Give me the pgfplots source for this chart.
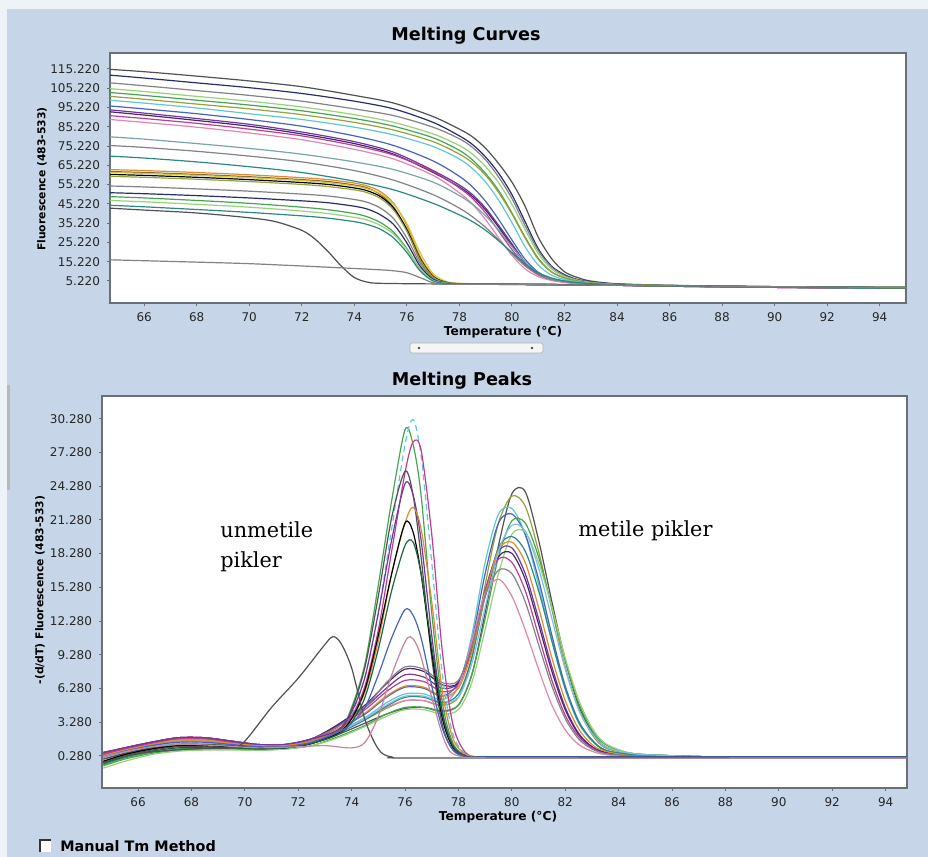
\documentclass[border=0pt]{standalone}
\usepackage{fontspec}
\setmainfont{DejaVu Sans}
\newfontfamily\annfont{DejaVu Serif}
\usepackage{pgfplots}
\usepackage{pgfplotstable}
\pgfplotsset{compat=1.18}

\definecolor{bgblue}{RGB}{198,214,232}
\definecolor{axgray}{RGB}{105,112,122}
\definecolor{cdgray}{RGB}{80,80,88}
\definecolor{cnavy}{RGB}{40,45,110}
\definecolor{cgray}{RGB}{130,130,135}
\definecolor{clgreen}{RGB}{150,210,120}
\definecolor{cgreen}{RGB}{70,165,80}
\definecolor{colive}{RGB}{150,160,60}
\definecolor{ccyan}{RGB}{95,200,210}
\definecolor{cblue}{RGB}{70,100,185}
\definecolor{cpurple}{RGB}{115,55,150}
\definecolor{cdpurple}{RGB}{75,35,110}
\definecolor{cmagenta}{RGB}{190,60,150}
\definecolor{cpink}{RGB}{225,135,175}
\definecolor{cgcyan}{RGB}{120,165,170}
\definecolor{cteal}{RGB}{45,135,130}
\definecolor{corange}{RGB}{220,140,50}
\definecolor{cbrown}{RGB}{140,100,40}
\definecolor{cyellow}{RGB}{210,200,60}
\definecolor{csky}{RGB}{130,190,230}
\definecolor{cdgreen}{RGB}{30,100,60}

% ---------- Melting curves: methylated-type samples ----------
\pgfplotstableread{
T    m1    m2    m3    m4    m5    m6    m7    m8    m9    m10   m11   m12   m13   m14   m15
64.7 115   112   108   105   103   101   99    96    94    93    91    89    80    75.5  70
66   113.8 110.5 106.5 103.5 101.5 99.5  97.5  94.5  92.3  91.3  89.5  87.5  78.8  74.5  69
68   111.5 108   104   101   99    97    95    92    89.5  88.5  87    85    76.5  72.5  67
70   109   105.5 101.5 98.5  96.5  94.5  92    89    86.5  85.5  84    82    74    70    64.5
72   106   102.5 98.5  95.5  93.5  91.5  89    85.5  82.5  81.5  80.5  78.5  71    67    61.5
74   101.5 98.5  94.5  91.5  89.5  87.5  85    80.5  77.5  76.5  75.5  73.5  67    62.5  57
75.5 97.5  94.5  91    87.5  85.5  83.5  81    75.5  72    71    70.5  68.5  63    57.5  52.5
77   90.5  87.5  85    81.5  79.5  77.5  75    67.5  62.5  61.5  62    60    56.5  50    45.5
78   84    80.5  79    75.5  73    71    68.5  59.5  55    54    53.5  51    49.5  43    39.5
78.5 80    76    74.5  71    68    66.5  63.5  54    50    49    48    45    45    38.5  36
79   74    69.5  68    64.5  61    60    56.5  46.5  43    42    40.5  37    39    33    31.5
79.5 66    61    59    56    52    51    47    37    34    33    31    27.5  31.5  26.5  26
80   56.5  50    48    45    40.5  40    35.5  26.5  24.5  23.5  21.5  18.5  23    19.5  20
80.5 44    36    34    32    28    27.5  23    16.5  15    14.5  13.5  11.5  15    13    14
81   28    22    21    19.5  17    16.5  13.5  9.8   9     8.8   8.4   7.5   9.5   8.5   9.5
81.5 17    13    12.5  11.5  10    10    8.3   6.5   6.2   6     5.9   5.5   6.5   6     6.8
82   10    8.5   8     7.5   6.8   6.8   6     5     4.8   4.7   4.6   4.5   5     4.8   5.3
82.5 7     6     5.8   5.5   5.2   5.1   4.7   4.2   4.1   4     4     3.9   4.2   4.1   4.4
83   5.2   4.8   4.6   4.4   4.2   4.1   3.9   3.7   3.6   3.5   3.5   3.5   3.7   3.6   3.8
84   3.8   3.6   3.5   3.4   3.3   3.2   3.2   3.1   3     3     3     3     3.1   3.1   3.2
86   3     2.9   2.9   2.8   2.7   2.7   2.6   2.6   2.5   2.5   2.5   2.5   2.6   2.6   2.6
90   2.2   2.1   2.1   2     2     2     2     2     1.9   1.9   1.9   1.9   2     2     2
95   1.5   1.5   1.5   1.4   1.4   1.4   1.4   1.4   1.4   1.4   1.4   1.4   1.4   1.4   1.4
}\topM

% ---------- Melting curves: unmethylated-type samples ----------
\pgfplotstableread{
T    u1   u2   u3   u4   u5   u6   u7   u8   u9   u10
64.7 63   62   61.5 60.5 59.5 54.5 51   49   47   44.5
66   62.5 61.5 61   60   59   54   50.5 48.3 46.3 43.7
68   61.5 60.5 60   59   58   53   49.5 47   45   42.3
70   60.3 59.3 58.8 57.8 56.8 51.8 48.3 45.5 43.5 40.8
72   58.8 57.8 57.3 56.3 55.3 50.3 46.8 43.5 41.5 39
73   57.8 56.8 56.2 55.3 54.2 49.3 45.8 42.2 40.2 37.8
74   56   55   54.5 53.5 52.5 47.5 44   40.2 38.2 36
74.5 54.5 53.5 53   52   51   46   42.5 38.5 36.8 34.5
75   51.5 50   50.5 49   48   43   39.5 35.5 34   32
75.5 45.5 43.5 45   43   42   37.5 34.5 30.5 29.5 27.5
76   34   31.5 35   32   31   27.5 25   22   21.5 20
76.5 18   16   20   17   16.5 14.5 13   11.5 11.5 10.5
77   8    7    9    7.5  7.2  6.5  6    5.5  5.5  5.2
77.5 4.6  4.4  5    4.5  4.4  4.3  4.2  4.1  4.1  4
78   3.9  3.8  4    3.8  3.8  3.7  3.7  3.7  3.7  3.6
80   3.6  3.5  3.6  3.5  3.5  3.5  3.5  3.5  3.5  3.4
84   3.2  3.1  3.2  3.1  3.1  3.1  3.1  3.1  3.1  3
88   2.5  2.4  2.5  2.4  2.4  2.4  2.4  2.4  2.4  2.4
95   1.8  1.8  1.8  1.8  1.8  1.8  1.8  1.8  1.8  1.8
}\topU

% ---------- Melting peaks: methylated-type samples ----------
\pgfplotstableread{
T    b1   b2   b3   b4   b5   b6   b7   b8   b9   b10  b11  b12  b13  b14
64.7 -0.3 -0.2 0.2  0.4  -0.6 -0.8 0.6  0.5  0.5  0.3  0    0.3  0.4  0.1
65.5 0.3  0.4  0.7  0.9  0    -0.2 1.0  1.0  1.0  0.8  0.5  0.8  0.9  0.6
66.5 0.8  0.9  1.2  1.4  0.5  0.4  1.5  1.5  1.5  1.3  1.0  1.3  1.4  1.1
67.5 1.1  1.2  1.6  1.8  0.8  0.7  1.9  1.9  1.9  1.7  1.3  1.6  1.8  1.4
68.5 1.1  1.2  1.6  1.8  0.9  0.8  1.9  1.9  1.9  1.7  1.3  1.6  1.8  1.4
69.5 1.0  1.1  1.4  1.5  0.9  0.8  1.6  1.6  1.6  1.4  1.2  1.4  1.5  1.3
70.5 0.9  1.0  1.2  1.2  0.8  0.8  1.3  1.3  1.3  1.1  1.0  1.2  1.2  1.1
71.5 1.0  1.1  1.2  1.2  0.9  0.9  1.3  1.3  1.3  1.1  1.0  1.2  1.2  1.1
72.5 1.4  1.5  1.6  1.7  1.2  1.2  1.8  1.8  1.8  1.5  1.4  1.6  1.7  1.5
73.5 2.2  2.4  2.5  2.7  2.0  1.9  3.0  3.1  2.9  2.4  2.3  2.7  2.9  2.4
74.5 3.2  3.5  3.7  4.0  3.0  2.9  4.6  4.8  4.4  3.6  3.5  4.1  4.6  3.6
75.3 4.0  4.5  5.0  5.5  4.0  3.8  6.3  6.7  6.0  4.6  4.7  5.6  6.8  4.8
76   4.5  5.2  5.8  6.4  4.6  4.4  7.5  8.0  7.0  5.2  5.5  6.5  8.2  5.6
76.7 4.6  5.2  5.8  6.3  4.6  4.4  7.3  7.8  6.9  5.2  5.5  6.4  8.0  5.6
77.4 4.3  4.8  5.3  5.6  4.2  4.0  6.3  6.6  6.0  4.8  5.0  5.6  6.8  5.1
78   4.8  5.5  6.5  6.8  4.8  4.4  6.8  6.8  6.6  6.5  5.8  6.3  7.0  5.5
78.5 7.5  9    11   10.5 7.5  6.8  10   9.8  10   10.5 9    9.5  10   8.5
79   13   15.5 17.5 16.5 12.5 11.5 15   14.5 15   14.8 14.5 14.5 14.5 13.5
79.5 19   21   21.8 21   18   16.5 18.5 18   17.8 16.0 18.8 18.6 16.8 18.5
80   23.6 23.4 22.3 21.8 21.2 20   18.8 18.3 17.5 14.5 19.8 19.3 16.5 20.8
80.5 23.8 22.5 20   20   21   20.2 16.5 16   15   11.5 18.5 17.5 14   20.3
81   19.5 18.5 15.5 16   18   17.5 12.5 12   11   8    15   13.5 10.2 17
81.5 14   13.3 10.5 11   13.5 13.5 8.2  7.8  7    4.8  10.5 9    6.5  12.5
82   8.8  8.2  6.2  6.5  8.8  9    4.6  4.4  3.9  2.6  6.3  5.2  3.6  8
82.5 4.8  4.5  3.2  3.4  5.0  5.3  2.3  2.2  2.0  1.3  3.3  2.7  1.8  4.4
83   2.4  2.2  1.6  1.7  2.6  2.8  1.1  1.1  1.0  0.7  1.7  1.3  0.9  2.3
83.5 1.1  1.0  0.8  0.8  1.3  1.4  0.6  0.6  0.5  0.4  0.8  0.7  0.5  1.1
84.5 0.5  0.5  0.4  0.4  0.5  0.5  0.3  0.3  0.3  0.2  0.4  0.3  0.3  0.5
86   0.3  0.3  0.3  0.3  0.3  0.3  0.2  0.2  0.2  0.2  0.3  0.2  0.2  0.3
88   0.2  0.2  0.2  0.2  0.2  0.2  0.2  0.2  0.2  0.2  0.2  0.2  0.2  0.2
95   0.2  0.2  0.2  0.2  0.2  0.2  0.2  0.2  0.2  0.2  0.2  0.2  0.2  0.2
}\botM

% ---------- Melting peaks: unmethylated-type samples ----------
\pgfplotstableread{
T    v1   v2   v3   v4   v5   v6   v7   v8   v9
64.7 -0.5 0.2  0.4  0.0  0.6  0.3  -0.2 -0.4 0.2
65.5 0.1  0.7  0.9  0.5  1.0  0.8  0.4  0.2  0.7
66.5 0.6  1.2  1.4  1.0  1.5  1.3  0.9  0.7  1.2
67.5 0.9  1.5  1.8  1.3  1.9  1.7  1.2  1.0  1.5
68.5 1.0  1.5  1.8  1.3  1.9  1.7  1.2  1.0  1.5
69.5 1.0  1.3  1.5  1.2  1.6  1.4  1.1  1.0  1.3
70.5 0.9  1.1  1.2  1.0  1.3  1.2  1.0  0.9  1.1
71.5 1.0  1.1  1.2  1.0  1.3  1.2  1.0  1.0  1.1
72.5 1.4  1.5  1.6  1.4  1.8  1.6  1.4  1.4  1.5
73.5 2.3  2.4  2.5  2.4  2.6  2.4  2.3  2.2  2.4
74   4.6  4.0  3.8  4.4  4.2  3.6  3.6  3.3  3.2
74.5 8.5  7.3  6.5  8.2  7.3  6.0  6.2  5.5  4.6
75   15.5 13   11.5 14.5 13   10.5 11   9.8  7.5
75.5 23   20.5 18.5 21.5 19.5 16.5 16.5 15   10.8
76   29.3 28   25.5 25.6 24.5 21   21   19   13.3
76.3 28   30.2 28.2 23.5 23.5 22.4 20.2 19.3 12.8
76.6 23.5 27   27.5 18   19.5 20.5 16.5 16.5 10.8
77   13   17.5 20   9    11   14   9.5  10   6.5
77.4 5    7.5  9.5  3    4.2  6    3.6  4    2.7
77.8 1.4  2.2  3    0.8  1.2  1.8  1.0  1.1  0.8
78.3 0.3  0.4  0.5  0.2  0.3  0.4  0.2  0.2  0.2
79   0.2  0.2  0.2  0.2  0.2  0.2  0.2  0.2  0.2
81   0.2  0.2  0.2  0.2  0.2  0.2  0.2  0.2  0.2
84   0.2  0.2  0.2  0.2  0.2  0.2  0.2  0.2  0.2
88   0.2  0.2  0.2  0.2  0.2  0.2  0.2  0.2  0.2
95   0.2  0.2  0.2  0.2  0.2  0.2  0.2  0.2  0.2
}\botU

\pgfplotsset{
  lcstyle/.style={
    scale only axis,
    axis background/.style={fill=white},
    axis line style={draw=axgray, line width=0.9pt},
    tick align=outside, xtick pos=left, ytick pos=left,
    major tick length=1.5pt,
    tick style={draw=axgray, line width=0.5pt},
    ticklabel style={font=\fontsize{6}{7}\selectfont, text=black!85},
    /pgf/number format/assume math mode=true,
    xtick={66,68,...,94},
    every axis plot/.append style={no markers, smooth, line width=0.6pt},
  }
}

\begin{document}
\begin{tikzpicture}
% background
\fill[bgblue] (0pt,0pt) rectangle (464pt,428.5pt);
\fill[white!70!bgblue] (0pt,424pt) rectangle (464pt,428.5pt);
\fill[white!70!bgblue] (0pt,0pt) rectangle (3.5pt,428.5pt);
\fill[gray!55] (3.5pt,183.5pt) rectangle (5pt,236pt);

% ---------------- top: Melting Curves ----------------
\begin{axis}[lcstyle,
  at={(55pt,277pt)}, anchor=south west,
  width=398pt, height=125pt,
  xmin=64.7, xmax=95, ymin=-6.2, ymax=123.5,
  ytick={5.22,15.22,25.22,35.22,45.22,55.22,65.22,75.22,85.22,95.22,105.22,115.22},
  yticklabels={5.220,15.220,25.220,35.220,45.220,55.220,65.220,75.220,85.220,95.220,105.220,115.220},
]
\addplot[cdgray]   table[x=T,y=m1]  {\topM};
\addplot[cnavy]    table[x=T,y=m2]  {\topM};
\addplot[cgray]    table[x=T,y=m3]  {\topM};
\addplot[clgreen]  table[x=T,y=m4]  {\topM};
\addplot[cgreen]   table[x=T,y=m5]  {\topM};
\addplot[colive]   table[x=T,y=m6]  {\topM};
\addplot[ccyan]    table[x=T,y=m7]  {\topM};
\addplot[cblue]    table[x=T,y=m8]  {\topM};
\addplot[cpurple]  table[x=T,y=m9]  {\topM};
\addplot[cdpurple] table[x=T,y=m10] {\topM};
\addplot[cmagenta] table[x=T,y=m11] {\topM};
\addplot[cpink]    table[x=T,y=m12] {\topM};
\addplot[cgcyan]   table[x=T,y=m13] {\topM};
\addplot[cgray]    table[x=T,y=m14] {\topM};
\addplot[cteal]    table[x=T,y=m15] {\topM};
\addplot[corange]  table[x=T,y=u1]  {\topU};
\addplot[cbrown]   table[x=T,y=u2]  {\topU};
\addplot[cyellow]  table[x=T,y=u3]  {\topU};
\addplot[black]    table[x=T,y=u4]  {\topU};
\addplot[colive]   table[x=T,y=u5]  {\topU};
\addplot[cgray]    table[x=T,y=u6]  {\topU};
\addplot[cnavy]    table[x=T,y=u7]  {\topU};
\addplot[cgreen]   table[x=T,y=u8]  {\topU};
\addplot[clgreen]  table[x=T,y=u9]  {\topU};
\addplot[cteal]    table[x=T,y=u10] {\topU};
\addplot[cdgray] coordinates {(64.7,43) (66,42) (68,40.5) (70,38) (71,36) (72,31.5) (72.5,27) (73,20.5) (73.5,13) (74,7) (74.5,4.6) (75,4) (77,3.7) (80,3.5) (88,2.5) (95,1.8)};
\addplot[cgray] coordinates {(64.7,16.2) (68,15) (70,14.2) (72,13) (74,11.7) (75,11) (75.5,10.5) (76,9.5) (76.5,7) (77,4.3) (77.5,3.6) (80,3.4) (88,2.5) (95,1.8)};
\end{axis}

% ---------------- bottom: Melting Peaks ----------------
\begin{axis}[lcstyle,
  at={(51pt,34.5pt)}, anchor=south west,
  width=402.5pt, height=196pt,
  xmin=64.65, xmax=94.8, ymin=-2.57, ymax=32.3,
  ytick={0.28,3.28,6.28,9.28,12.28,15.28,18.28,21.28,24.28,27.28,30.28},
  yticklabels={0.280,3.280,6.280,9.280,12.280,15.280,18.280,21.280,24.280,27.280,30.280},
]
\addplot[cdgray]   table[x=T,y=b1]  {\botM};
\addplot[colive]   table[x=T,y=b2]  {\botM};
\addplot[ccyan]    table[x=T,y=b3]  {\botM};
\addplot[cblue]    table[x=T,y=b4]  {\botM};
\addplot[cgreen]   table[x=T,y=b5]  {\botM};
\addplot[clgreen]  table[x=T,y=b6]  {\botM};
\addplot[cpurple]  table[x=T,y=b7]  {\botM};
\addplot[cdpurple] table[x=T,y=b8]  {\botM};
\addplot[cmagenta] table[x=T,y=b9]  {\botM};
\addplot[cpink]    table[x=T,y=b10] {\botM};
\addplot[cteal]    table[x=T,y=b11] {\botM};
\addplot[corange]  table[x=T,y=b12] {\botM};
\addplot[cgray]    table[x=T,y=b13] {\botM};
\addplot[csky]     table[x=T,y=b14] {\botM};
\addplot[cgreen]   table[x=T,y=v1]  {\botU};
\addplot[ccyan, densely dashed] table[x=T,y=v2] {\botU};
\addplot[cmagenta] table[x=T,y=v3]  {\botU};
\addplot[cdgray]   table[x=T,y=v4]  {\botU};
\addplot[cpurple]  table[x=T,y=v5]  {\botU};
\addplot[corange]  table[x=T,y=v6]  {\botU};
\addplot[black]    table[x=T,y=v7]  {\botU};
\addplot[cdgreen]  table[x=T,y=v8]  {\botU};
\addplot[cblue]    table[x=T,y=v9]  {\botU};
\addplot[cdgray] coordinates {(64.7,-0.3) (66,0.5) (68,0.9) (69.5,1.0) (70,1.6) (71,4.6) (72,7.2) (73,10.2) (73.3,10.9) (73.6,10.3) (74,8.1) (74.5,3.5) (75,0.9) (75.5,0.2) (77,0.1) (95,0.1)};
\addplot[cpink!70!gray] coordinates {(64.7,0.2) (66,0.9) (67.5,1.3) (69,1.2) (70.5,1.0) (72,1.1) (73,1.2) (74,1.0) (74.5,1.5) (75,3.8) (75.5,7.5) (76.1,10.8) (76.5,9.8) (77,5.5) (77.5,1.5) (78,0.3) (80,0.1) (95,0.1)};
\end{axis}

% ---------------- titles and labels ----------------
\node[font=\bfseries\fontsize{8.8}{10}\selectfont] at (233pt,410.5pt) {Melting Curves};
\node[font=\bfseries\fontsize{8.8}{10}\selectfont] at (231pt,238pt) {Melting Peaks};
\node[font=\bfseries\fontsize{6.1}{7}\selectfont] at (251.5pt,262.5pt) {Temperature (°C)};
\node[font=\bfseries\fontsize{6.1}{7}\selectfont] at (249pt,20pt) {Temperature (°C)};
\node[font=\bfseries\fontsize{5.4}{6}\selectfont, rotate=90] at (21pt,339pt) {Fluorescence (483-533)};
\node[font=\bfseries\fontsize{5.4}{6}\selectfont, rotate=90] at (20pt,133.5pt) {-(d/dT) Fluorescence (483-533)};

% scroll bar
\draw[fill=gray!8, draw=gray!60, line width=0.4pt, rounded corners=0.8pt] (205pt,252pt) rectangle (271.5pt,257pt);
\fill[black!70] (209.5pt,254.5pt) circle (0.7pt);
\fill[black!70] (266pt,254.5pt) circle (0.7pt);

% annotations
\node[font=\annfont\fontsize{10.4}{12}\selectfont, anchor=base west, inner sep=0pt] at (110pt,159.5pt) {unmetile};
\node[font=\annfont\fontsize{10.4}{12}\selectfont, anchor=base west, inner sep=0pt] at (110pt,144.5pt) {pikler};
\node[font=\annfont\fontsize{10.4}{12}\selectfont, anchor=base west, inner sep=0pt] at (289pt,160pt) {metile pikler};

% checkbox
\fill[white] (20pt,2.5pt) rectangle (25.5pt,8.5pt);
\draw[black!80, line width=0.8pt] (20pt,2.5pt) -- (20pt,8.5pt) -- (25.5pt,8.5pt);
\node[font=\bfseries\fontsize{7.2}{8}\selectfont, anchor=west, inner sep=0pt] at (30pt,5.5pt) {Manual Tm Method};
\end{tikzpicture}
\end{document}
